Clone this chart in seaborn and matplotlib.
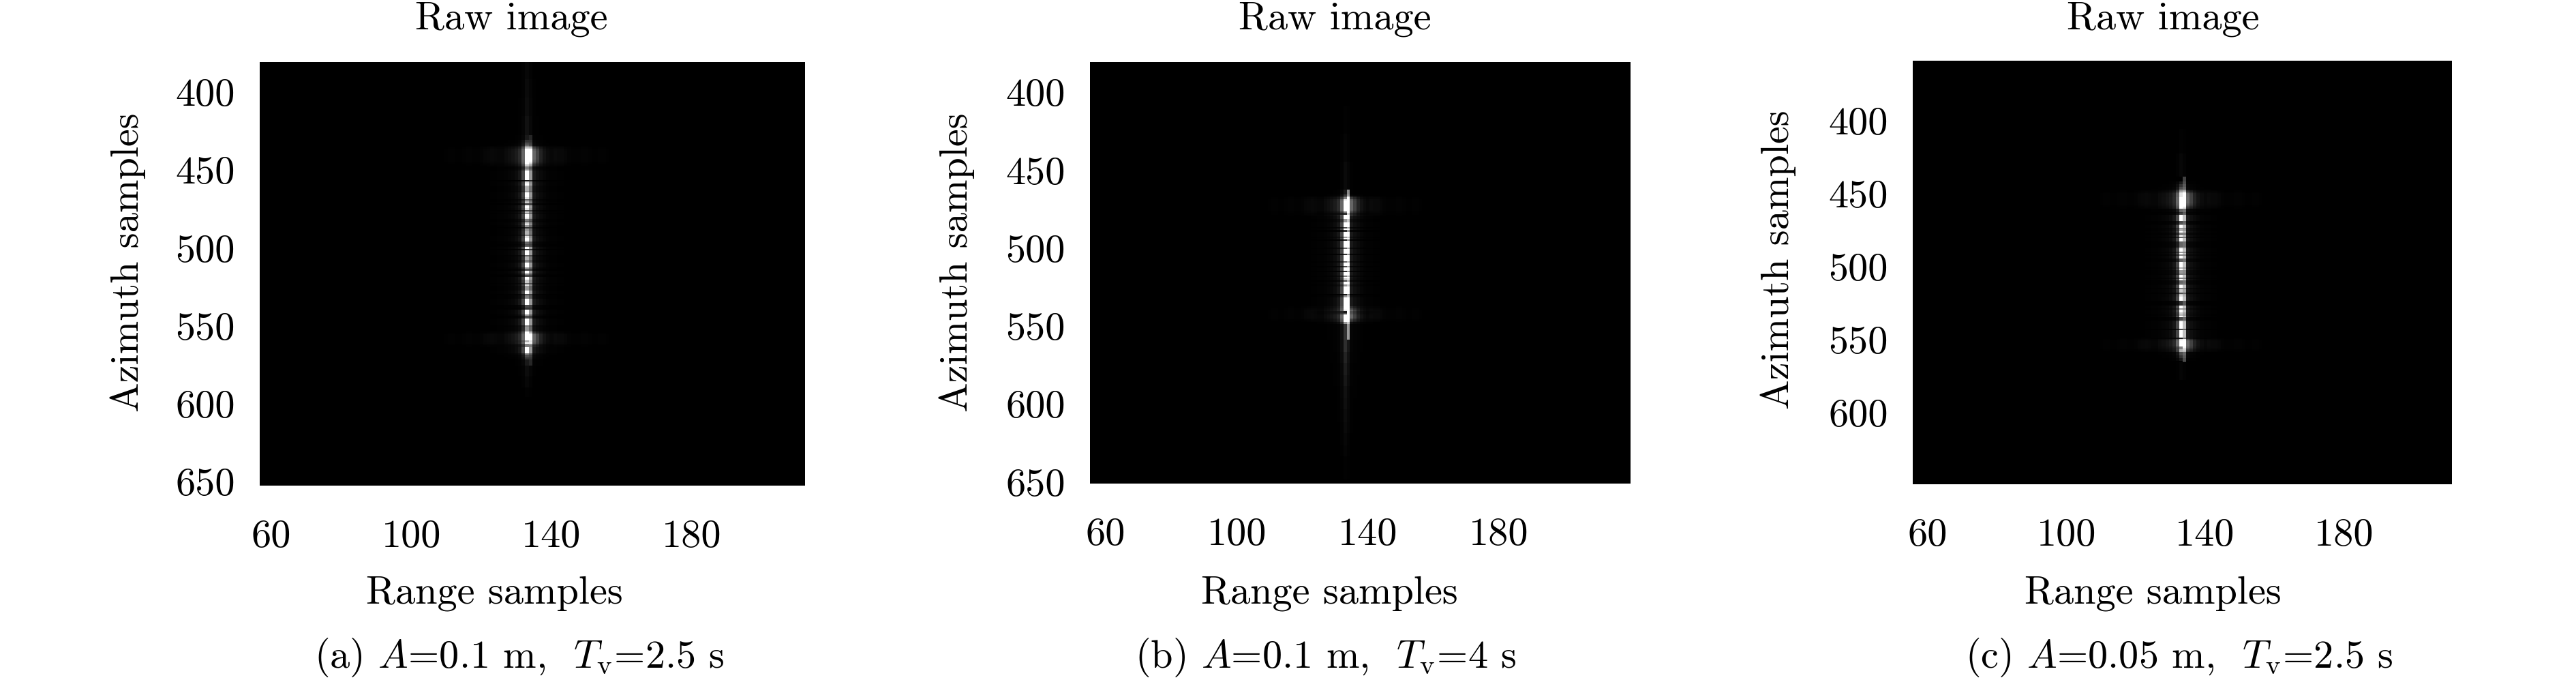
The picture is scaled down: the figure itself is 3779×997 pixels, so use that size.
import numpy as np
import pandas as pd
import matplotlib
matplotlib.use("Agg")
import matplotlib.pyplot as plt
import seaborn as sns

sns.set_theme(style="white")
plt.rcParams["font.family"] = ["cmr10", "DejaVu Serif"]
plt.rcParams["mathtext.fontset"] = "cm"
plt.rcParams["axes.unicode_minus"] = False

W, H = 3780, 997
FS = 42

x_ticks = [60, 100, 140, 180]
y_ticks_ab = [400, 450, 500, 550, 600, 650]
y_ticks_c = [400, 450, 500, 550, 600]

captions = [r"(a) $A$=0.1 m,  $T_{\rm v}$=2.5 s",
            r"(b) $A$=0.1 m,  $T_{\rm v}$=4 s",
            r"(c) $A$=0.05 m,  $T_{\rm v}$=2.5 s"]

# brightness of the target column, tenths, one entry per azimuth row
core_a = [1, 1, 1, 2, 2, 3, 4, 6, 8, 10, 10, 10, 10, 10, 10, 10, 10, 10, 10, 8, 5, 5, 6,
          10, 10, 10, 10, 10, 10, 1, 9, 10, 9, 7, 7, 7, 6, 10, 10, 10, 9, 4, 7, 8, 3,
          10, 10, 9, 3, 8, 6, 10, 10, 9, 5, 4, 8, 9, 6, 2, 6, 6, 7, 7, 5, 9, 10, 10, 7,
          4, 3, 4, 10, 2, 10, 10,
          10, 4, 7, 7, 5, 5, 10, 10, 10, 6, 3, 10, 10, 5, 3, 10, 10, 8, 8, 4, 9, 6, 6, 6,
          10, 10, 3, 5, 5, 10, 10, 10, 10, 3, 3, 2, 10, 10, 10, 6, 3, 3, 10, 10, 10, 10,
          5, 6, 6, 6, 10, 10, 10, 10, 10, 10, 7, 10, 5, 5, 10, 10, 10, 10, 5, 3, 3, 2, 1, 1, 1, 1]
core_b = [1, 1, 1, 2, 3, 5, 9, 10, 10, 10, 10, 10, 10, 10, 5, 2, 10, 10, 10, 6, 6, 10, 10,
          10, 3, 10, 2, 10, 10, 10, 6, 10, 1, 10, 10, 10, 10, 4, 10, 10, 10, 2, 10, 10, 10,
          10, 4, 10, 10, 3, 10, 10, 2, 10, 10, 5, 10, 8, 3, 10, 10, 6, 10, 10, 10, 10, 10,
          1, 6, 10, 10, 10, 10, 10, 10, 10, 10, 9, 1, 3, 10, 10, 10, 10, 10, 6, 2, 2, 2, 2,
          2, 2, 2, 2, 2, 2]
core_c = [0, 0, 0, 1, 1, 2, 2, 3, 4, 6, 8, 9, 9, 9, 10, 10, 10, 10, 10, 10, 10, 10, 4, 4, 2,
          3, 10, 10, 10, 10, 3, 3, 5, 10, 10, 6, 7, 10, 5, 5, 10, 4, 10, 10, 4, 4, 4, 4, 6,
          10, 10, 6, 10, 5, 10, 10, 4, 4, 10, 10,
          10, 10, 7, 10, 6, 6, 5, 10, 10, 5, 10, 4, 4, 6, 10, 10, 5, 8, 8, 3, 8, 9, 10, 10,
          10, 2, 2, 2, 10, 10, 6, 10, 10, 8, 7, 10, 3, 3, 5, 10, 10, 10, 10, 10, 3, 10, 10,
          10, 10, 10, 1, 9, 10, 10, 10, 10, 5, 5, 7, 7, 3, 3, 2, 2, 1, 1, 0]

# first azimuth sample and range sample of each strip
strip_start = [428, 463, 439]
target_range = [133, 133, 133]

# faint line above and below the strip
tail_top_a = [0.02, 0.03, 0.03, 0.04, 0.05, 0.07]
tail_bot_a = [0.05, 0.03, 0.01, 0, 0, 0, 0, 0, 0, 0, 0, 0]
tail_top_b = [0, 0, 0, 0.01, 0.02, 0.04]
tail_bot_b = [0.18, 0.14, 0.11, 0.09, 0.07, 0.06, 0.05, 0.04, 0.03, 0.02, 0.01, 0.01, 0]
tail_top_c = [0, 0, 0, 0.01, 0.03]
tail_bot_c = [0.02, 0, 0, 0, 0, 0, 0, 0]

# level of the next column over, all along the strip
right_floor = [0.10, 0.50, 0.25]

# lateral shape around the target, range offset -10..10
core_profile = [0.005, 0.005, 0.01, 0.01, 0.015, 0.02, 0.03, 0.05, 0.09, 0.28, 1.0,
                0.50, 0.10, 0.06, 0.04, 0.025, 0.015, 0.01, 0.01, 0.005, 0.005]
# lobes at both ends of the strip, range offset -24..24
glow_profile = [0.003, 0.005, 0.01, 0.01, 0.005, 0.005, 0.01, 0.015, 0.015, 0.01,
                0.01, 0.015, 0.025, 0.03, 0.03, 0.025, 0.015, 0.015, 0.03, 0.04,
                0.05, 0.06, 0.08, 0.12, 0.0, 0.45, 0.30, 0.20, 0.10,
                0.05, 0.03, 0.02, 0.03, 0.03, 0.03, 0.025, 0.015, 0.01, 0.01,
                0.01, 0.015, 0.015, 0.01, 0.005, 0.005, 0.01, 0.01, 0.005, 0.003]

glow_top = [0.3, 0.6, 0.9, 1, 1, 1, 1, 1, 1, 0.9, 0.7, 0.5, 0.3]
glow_bot = [0.3, 0.6, 1, 1, 1, 1, 1, 0.8, 0.5, 0.3]
glow_first = [(435, 554), (467, 538), (448, 549)]

# pixel boxes and limits
boxes = [(381, 1181, 91, 712), (1599, 2392, 91, 709), (2806, 3597, 89, 710)]
xlims = [(56.7, 212.4), (55.2, 220.1), (55.7, 211.1)]
ylims = [(380.7, 652.6), (380.7, 651.0), (358.9, 649.0)]
title_x = [750, 1958, 3173]
xlabel_x = [725, 1950, 3158]
caption_x = [762, 1945, 3197]
ylabel_x = [188, 1404, 2609]

range_samples = np.arange(50, 225)
azimuth_samples = np.arange(355, 656)


def stretch(levels, n):
    idx = (np.arange(n) * len(levels) / max(n, 1)).astype(int)
    return np.array(levels)[idx]


def build_image(core, start, target, tail_top, tail_bot, floor, glows):
    core = np.array(core) / 10
    first = start - azimuth_samples[0]
    col = np.zeros(len(azimuth_samples))
    col[first:first + len(core)] = core
    col[:first] = stretch(tail_top, first)
    n_below = len(col) - first - len(core)
    col[first + len(core):] = stretch(tail_bot, n_below)

    img = np.zeros((len(azimuth_samples), len(range_samples)))
    t = target - range_samples[0]
    img[:, t - 10:t + 11] += np.outer(col, core_profile)
    img[first:first + len(core), t + 1] += floor

    glow = np.zeros(len(azimuth_samples))
    g = glows[0] - azimuth_samples[0]
    glow[g:g + len(glow_top)] = glow_top
    g = glows[1] - azimuth_samples[0]
    glow[g:g + len(glow_bot)] = glow_bot
    img[:, t - 24:t + 25] += np.outer(glow, glow_profile)
    return pd.DataFrame(np.clip(img, 0, 1), index=azimuth_samples, columns=range_samples)


images = [
    build_image(core_a, strip_start[0], target_range[0], tail_top_a, tail_bot_a, right_floor[0], glow_first[0]),
    build_image(core_b, strip_start[1], target_range[1], tail_top_b, tail_bot_b, right_floor[1], glow_first[1]),
    build_image(core_c, strip_start[2], target_range[2], tail_top_c, tail_bot_c, right_floor[2], glow_first[2]),
]
y_tick_sets = [y_ticks_ab, y_ticks_ab, y_ticks_c]

fig = plt.figure(figsize=(W / 100, H / 100), dpi=100, facecolor="white")


def put(x, y, s, **kw):
    fig.text(x / W, 1 - y / H, s, ha="center", va="center", fontsize=FS, color="black", **kw)


for i in range(3):
    x0, x1, y0, y1 = boxes[i]
    ax = fig.add_axes([x0 / W, 1 - y1 / H, (x1 - x0) / W, (y1 - y0) / H])
    sns.heatmap(images[i], ax=ax, cmap="gray", vmin=0, vmax=1, cbar=False,
                xticklabels=False, yticklabels=False)
    ax.set_xlabel("")
    ax.set_ylabel("")
    # heatmap cells sit on index positions, so shift sample numbers to them
    dx = 0.5 - range_samples[0]
    dy = 0.5 - azimuth_samples[0]
    ax.set_xlim(xlims[i][0] + dx, xlims[i][1] + dx)
    ax.set_ylim(ylims[i][1] + dy, ylims[i][0] + dy)
    ax.set_xticks([v + dx for v in x_ticks])
    ax.set_xticklabels([str(v) for v in x_ticks], rotation=0)
    ax.set_yticks([v + dy for v in y_tick_sets[i]])
    ax.set_yticklabels([str(v) for v in y_tick_sets[i]], rotation=0)
    ax.tick_params(length=0, labelsize=FS, pad=26, colors="black")
    ax.tick_params(axis="x", pad=36)
    for sp in ax.spines.values():
        sp.set_visible(False)

    put(title_x[i], 28, "Raw image")
    put(xlabel_x[i], 870, "Range samples")
    put(caption_x[i], 964, captions[i])
    put(ylabel_x[i], 385 if i < 2 else 381, "Azimuth samples", rotation=90)

fig.savefig("out.png", dpi=100, facecolor="white")
